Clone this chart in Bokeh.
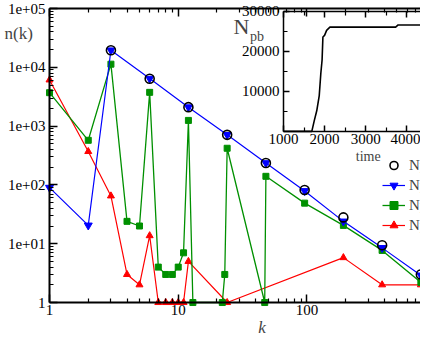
from bokeh.plotting import figure
from bokeh.models import (Range1d, LinearScale, LinearAxis, LogAxis, FixedTicker,
                          Legend, LegendItem, Label)
from bokeh.embed import file_html
from bokeh.resources import INLINE

# ---- data ----
k_pb = [3, 6, 12, 24, 48, 96, 192, 384, 768]
n_pb = [19500, 6400, 2100, 710, 236, 82, 28, 9.4, 3.0]

k_blue = [1, 2, 3, 6, 12, 24, 48, 96, 192, 384, 768]
n_blue = [90, 20.5, 19500, 6430, 2100, 712, 236, 79, 24, 8.5, 2.9]

k_green = [1, 2, 3, 4, 5, 6, 7, 8, 9, 10, 11, 12, 13, 22, 23, 24, 47, 48, 96, 192, 384, 768]
n_green = [3700, 574, 11300, 24, 20, 3750, 4, 3, 3, 4, 7, 1250, 1, 1, 3, 420, 1, 140, 49, 20.5, 7.7, 2.2]

k_red = [1, 2, 3, 4, 5, 6, 7, 8, 9, 10, 11, 12, 24, 192, 384, 768]
n_red = [6100, 370, 65, 3, 2, 13.7, 1, 1, 1, 1, 1, 5, 1, 5.8, 2, 2]

time = [1000, 1690, 1750, 1810, 1870, 1910, 1940, 1960, 2000, 2050, 2130, 3730, 3790, 4400]
n_pb_t = [0, 0, 2700, 5150, 8850, 14600, 17850, 23600, 24000, 25250, 26050, 26050, 26600, 26600]

y_ticks = [1, 10, 100, 1000, 10000, 100000]
y_tick_labels = ["1", "1e+01", "1e+02", "1e+03", "1e+04", "1e+05"]
x_ticks = [1, 10, 100, 1000]
x_tick_labels = ["1", "10", "100", "1000"]
inset_x_ticks = [1000, 2000, 3000, 4000]
inset_y_ticks = [10000, 20000, 30000]

legend_labels = ["Npb", "Np1", "Np2", "Np3"]

FONT = "Liberation Serif"

# the frame covers the whole figure; axes are pinned with fixed_location
p = figure(width=420, height=338, x_axis_type="log", y_axis_type="log",
           x_axis_location=None, y_axis_location=None,
           x_range=Range1d(0.416, 763), y_range=Range1d(0.2444, 1.368e5),
           output_backend="svg", toolbar_location=None,
           min_border_left=0, min_border_right=0, min_border_top=0,
           min_border_bottom=0, outline_line_color=None,
           background_fill_color="white", border_fill_color="white")
for g in p.grid:
    g.visible = False

def minor_log(decades):
    out = []
    for d in decades:
        out += [m * d for m in range(2, 10)]
    return out

def style_axis(ax, tick_in=8, minor_in=4, lw=2):
    ax.axis_line_width = lw
    ax.axis_line_color = "black"
    ax.major_tick_in = tick_in
    ax.major_tick_out = 0
    ax.minor_tick_in = minor_in
    ax.minor_tick_out = 0
    ax.major_tick_line_width = 1.5
    ax.minor_tick_line_width = 1.2
    ax.major_tick_line_color = "black"
    ax.minor_tick_line_color = "black"
    ax.major_label_text_font = FONT
    ax.major_label_text_font_size = "15px"
    ax.major_label_text_color = "black"

# main axes
yax = LogAxis(fixed_location=1, bounds=(1, 1e5),
              ticker=FixedTicker(ticks=y_ticks, minor_ticks=minor_log([1, 10, 100, 1000, 10000])),
              major_label_overrides=dict(zip(y_ticks, y_tick_labels)))
style_axis(yax)
yax.major_label_standoff = 4
p.add_layout(yax, "left")

xax = LogAxis(fixed_location=1, bounds=(1, 763),
              ticker=FixedTicker(ticks=x_ticks, minor_ticks=minor_log([1, 10, 100])),
              major_label_overrides=dict(zip(x_ticks, x_tick_labels)))
style_axis(xax)
xax.major_label_standoff = 2
p.add_layout(xax, "below")

top = LogAxis(fixed_location=1e5, bounds=(1, 763),
              ticker=FixedTicker(ticks=x_ticks, minor_ticks=minor_log([1, 10, 100])),
              major_label_overrides={t: "" for t in x_ticks})
style_axis(top)
p.add_layout(top, "above")

# inset coordinate system
p.extra_x_ranges = {"tx": Range1d(-5883, 4334)}
p.extra_x_scales = {"tx": LinearScale()}
p.extra_y_ranges = {"ty": Range1d(-51754, 32711)}
p.extra_y_scales = {"ty": LinearScale()}

ib = LinearAxis(x_range_name="tx", y_range_name="ty", fixed_location=0, bounds=(1000, 5000),
                ticker=FixedTicker(ticks=inset_x_ticks, minor_ticks=[1500, 2500, 3500, 4500]))
style_axis(ib, tick_in=6, minor_in=4, lw=1.5)
ib.major_label_standoff = 3
p.add_layout(ib, "below")

il = LinearAxis(x_range_name="tx", y_range_name="ty", fixed_location=1000, bounds=(0, 30000),
                ticker=FixedTicker(ticks=inset_y_ticks, minor_ticks=[5000, 15000, 25000]))
style_axis(il, tick_in=6, minor_in=4, lw=1.5)
il.major_label_standoff = 4
p.add_layout(il, "left")

it = LinearAxis(x_range_name="tx", y_range_name="ty", fixed_location=30000, bounds=(1000, 5000),
                ticker=FixedTicker(ticks=inset_x_ticks, minor_ticks=[1500, 2500, 3500, 4500]),
                major_label_overrides={t: "" for t in inset_x_ticks})
style_axis(it, tick_in=6, minor_in=4, lw=1.5)
p.add_layout(it, "above")

p.line(time, n_pb_t, x_range_name="tx", y_range_name="ty", line_color="black", line_width=1.6)

# main series
lr = p.line(k_red, n_red, line_color="red", line_width=1.2)
sr = p.scatter(k_red, n_red, marker="triangle", size=7, color="red")
lg = p.line(k_green, n_green, line_color="#009000", line_width=1.3)
sg = p.scatter(k_green, n_green, marker="square", size=6, color="#009000")
lb = p.line(k_blue, n_blue, line_color="blue", line_width=1.2)
sb = p.scatter(k_blue, n_blue, marker="inverted_triangle", size=8, color="blue")
sc = p.scatter(k_pb, n_pb, marker="circle", size=9, fill_color=None,
               line_color="black", line_width=1.6)

legend = Legend(items=[LegendItem(label=legend_labels[0], renderers=[sc]),
                       LegendItem(label=legend_labels[1], renderers=[lb, sb]),
                       LegendItem(label=legend_labels[2], renderers=[lg, sg]),
                       LegendItem(label=legend_labels[3], renderers=[lr, sr])],
                location=(382, 102.7), padding=0, margin=0, spacing=0,
                glyph_width=23, glyph_height=20, label_height=20, label_standoff=4,
                label_text_font=FONT, label_text_font_size="15px",
                border_line_color=None, background_fill_alpha=0)
p.add_layout(legend)

# labels (screen units relative to the frame, y from bottom)
p.add_layout(Label(x=4, y=305.5, x_units="screen", y_units="screen", text="n(k)",
                   text_font=FONT, text_font_size="17px", text_baseline="middle",
                   text_align="left"))
p.add_layout(Label(x=261.4, y=11, x_units="screen", y_units="screen", text="k",
                   text_font=FONT, text_font_size="17px", text_font_style="italic",
                   text_baseline="middle", text_align="center"))
p.add_layout(Label(x=233, y=312.1, x_units="screen", y_units="screen", text="N",
                   text_font=FONT, text_font_size="22px", text_baseline="middle",
                   text_align="left"))
p.add_layout(Label(x=249.4, y=301.6, x_units="screen", y_units="screen", text="pb",
                   text_font=FONT, text_font_size="14px", text_baseline="middle",
                   text_align="left"))
p.add_layout(Label(x=367.7, y=181.9, x_units="screen", y_units="screen", text="time",
                   text_font=FONT, text_font_size="14px", text_baseline="middle",
                   text_align="center"))

open("out.html", "w").write(file_html(p, INLINE))
